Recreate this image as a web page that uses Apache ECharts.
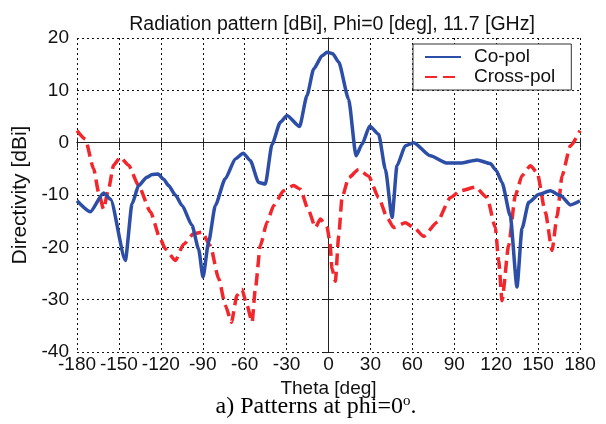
<!DOCTYPE html>
<html><head><meta charset="utf-8">
<script src="https://cdn.jsdelivr.net/npm/echarts@6/dist/echarts.min.js"></script>
<style>html,body{margin:0;padding:0;background:#fff}#c{width:606px;height:424px}</style>
</head><body><div id="c"></div>
<script>
var titleText = 'Radiation pattern [dBi], Phi=0 [deg], 11.7 [GHz]';
var xName = 'Theta [deg]';
var yName = 'Directivity [dBi]';
var seriesNames = ['Co-pol', 'Cross-pol'];
var xTicks = [-180, 180, 30];
var yTicks = [-40, 20, 10];

var coTheta = [-180,-170.5,-161,-156,-145.4,-140.6,-135.9,-130,-126.3,-122,-118,-114.4,-109.6,-104.8,-97.7,-93,-89.8,-85.8,-81,-73.9,-66.7,-61,-56,-50,-45.2,-40.4,-34.5,-29.7,-20.7,-15.4,-10.6,-4.6,-1,3,7.3,14.4,19.7,24,29.5,35.9,40.7,45.5,49,55,61,72.9,84.9,94.4,106.3,115.8,120,124.2,130.1,134.9,138.5,143.3,150.4,158.8,166,173.1,180];
var coVal   = [-11.1,-13.2,-9.6,-10.8,-22.5,-11.7,-8.2,-6.6,-6.1,-6.0,-7.0,-8.2,-10.0,-12.0,-15.8,-20.3,-25.7,-19,-12,-6.9,-3.1,-2.0,-3.4,-7.6,-7.9,-0.3,3.9,5.2,3.1,9.0,14.1,16.6,17.3,17.0,15.4,8.3,-2.5,-0.3,3.2,1.6,-5.1,-14.3,-4.4,-0.6,0,-2.5,-3.9,-3.9,-3.3,-4.0,-5.3,-7.6,-14,-27.6,-16.4,-11.4,-9.9,-9.2,-10.1,-11.9,-11.1];

var xpTheta = [-180,-174.1,-168.1,-164.5,-161,-157.4,-153.8,-149,-143.1,-135.9,-127.5,-120.4,-116.8,-109.6,-103.7,-96.5,-90.5,-84.6,-78.6,-73.8,-69.5,-65.5,-62,-58.3,-54.7,-52.4,-48.8,-44,-39.2,-32.1,-25,-20.2,-14.2,-9.4,-5.8,-1,1,2.5,4.9,7.3,9.7,14.4,21.6,28.7,35.9,41.9,46.6,55,61,68.1,77.7,87.2,94.4,105.1,113.5,119.4,121.8,124.2,128.9,133.7,138.5,144.5,149.3,155.2,160,163.6,167.2,173.1,180];
var xpVal   = [2.3,0.7,-5.0,-9.5,-12.7,-8.8,-4.3,-2.8,-4.3,-8.2,-13.2,-18.4,-20.3,-22.5,-19.4,-17.4,-17.1,-19.7,-26,-31.1,-34.3,-29.2,-28,-31.1,-34.3,-28,-19.7,-15.2,-12.0,-9.2,-8.2,-8.9,-13,-16.2,-14.6,-16.2,-19,-24,-26.5,-17.8,-10.5,-6.7,-5.1,-6.4,-10.5,-14.3,-16.2,-15.3,-16.2,-17.9,-15.2,-10.5,-9.2,-8.5,-10.5,-16.2,-22.6,-30.2,-19.7,-10.1,-6.3,-4.4,-5.7,-13.3,-20.6,-14,-6.3,-0.6,2.3];

function pairs(xs, ys){ var o=[]; for(var i=0;i<xs.length;i++) o.push([xs[i], ys[i]]); return o; }

var SANS = 'Liberation Sans, Arial, sans-serif';
var chart = echarts.init(document.getElementById('c'), null, {renderer:'canvas'});
var frame = {show:true, lineStyle:{color:'#222', width:1}};
var tick = {show:true, inside:true, length:5, lineStyle:{color:'#222', width:1}};
var grid = {show:true, lineStyle:{color:'#111', width:1, type:[2,3]}};
chart.setOption({
  animation:false,
  backgroundColor:'#fff',
  title:{text:titleText, left:327, top:10, textAlign:'center',
    textStyle:{fontFamily:SANS, fontSize:19.5, fontWeight:'normal', color:'#111'}},
  legend:{
    data:seriesNames, orient:'vertical', left:413, top:44,
    padding:[3,16,3,11], itemGap:0, itemWidth:36, itemHeight:14,
    backgroundColor:'#fff', borderColor:'#333', borderWidth:1,
    itemStyle:{color:'rgba(0,0,0,0)', borderWidth:0, opacity:0},
    textStyle:{fontFamily:SANS, fontSize:19, color:'#111', lineHeight:20, padding:[0,0,0,8]}
  },
  grid:{left:77, right:26, top:38, bottom:72, containLabel:false},
  xAxis:[{
    type:'value', min:xTicks[0], max:xTicks[1], interval:xTicks[2], position:'bottom',
    name:xName, nameLocation:'middle', nameGap:21,
    nameTextStyle:{fontFamily:SANS, fontSize:19, color:'#111'},
    axisLine:frame, axisTick:tick, splitLine:grid,
    axisLabel:{fontFamily:SANS, fontSize:19, color:'#111', margin:3}
  },{
    type:'value', min:xTicks[0], max:xTicks[1], interval:xTicks[2], position:'top',
    axisLine:frame, axisTick:tick, splitLine:{show:false}, axisLabel:{show:false}
  }],
  yAxis:[{
    type:'value', min:yTicks[0], max:yTicks[1], interval:yTicks[2], position:'left',
    name:yName, nameLocation:'middle', nameGap:44, nameRotate:90,
    nameTextStyle:{fontFamily:SANS, fontSize:21, color:'#111'},
    axisLine:frame, axisTick:tick, splitLine:grid,
    axisLabel:{fontFamily:SANS, fontSize:19, color:'#111', margin:8}
  },{
    type:'value', min:yTicks[0], max:yTicks[1], interval:yTicks[2], position:'right',
    axisLine:frame, axisTick:tick, splitLine:{show:false}, axisLabel:{show:false}
  }],
  series:[{
    name:seriesNames[0], type:'line', xAxisIndex:0, yAxisIndex:0, symbol:'none',
    smooth:0.2, smoothMonotone:'x',
    data:pairs(coTheta, coVal),
    lineStyle:{color:'#2c4ea6', width:3.5, join:'round'}, itemStyle:{color:'#2c4ea6'}, z:3
  },{
    name:seriesNames[1], type:'line', xAxisIndex:0, yAxisIndex:0, symbol:'none',
    smooth:0.2, smoothMonotone:'x',
    data:pairs(xpTheta, xpVal),
    lineStyle:{color:'#f2262b', width:3.5, type:[12,6]}, itemStyle:{color:'#f2262b'}, z:2
  }],
  graphic:[{
    type:'text', x:316, y:407,
    style:{
      text:'{a|a) Patterns at phi=0}{s|o}{a|.}',
      textAlign:'center', textVerticalAlign:'middle',
      rich:{
        a:{fontFamily:'Liberation Serif, Times New Roman, serif', fontSize:24, color:'#000', lineHeight:26},
        s:{fontFamily:'Liberation Serif, Times New Roman, serif', fontSize:15, color:'#000', verticalAlign:'top', lineHeight:26}
      }
    }
  }]
});
</script>
</body></html>
